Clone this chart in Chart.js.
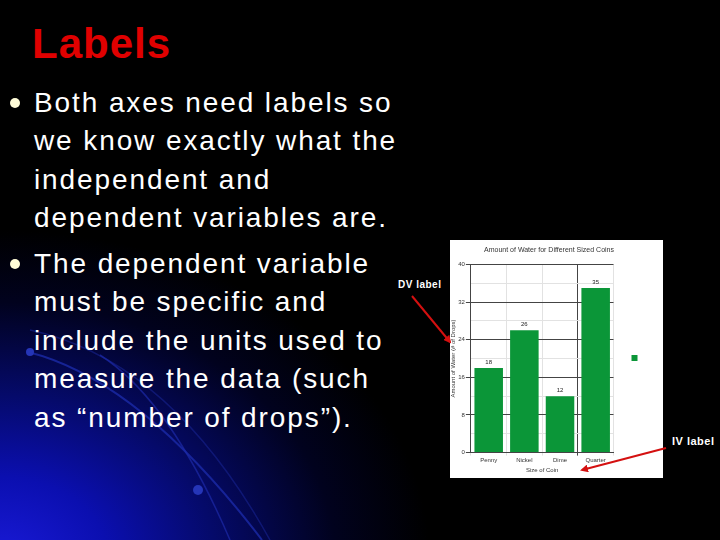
<!DOCTYPE html>
<html>
<head>
<meta charset="utf-8">
<script src="https://cdn.jsdelivr.net/npm/chart.js@4.4.1/dist/chart.umd.min.js"></script>
<style>
  html, body { margin: 0; padding: 0; }
  body {
    width: 720px; height: 540px; overflow: hidden; position: relative;
    background: radial-gradient(ellipse 430px 330px at 0px 560px, #1a1ad8 0%, #0b0fb0 25%, #050a6a 50%, #01021e 78%, #000 100%);
    background-color: #000;
    font-family: "Liberation Sans", Arial, sans-serif;
  }
  .layer { position: absolute; left: 0; top: 0; }
  .title {
    position: absolute; left: 32px; top: 23px; margin: 0;
    font-size: 42px; line-height: 42px; font-weight: bold; color: #e00000; letter-spacing: 1px;
  }
  .bullets {
    position: absolute; left: 34px; top: 83.5px; margin: 0; padding: 0; list-style: none;
    color: #fff; font-size: 28px; line-height: 38.5px; letter-spacing: 1.9px;
  }
  .bullets li { position: relative; margin: 0 0 7px 0; white-space: nowrap; }
  .bullets li::before {
    content: ""; position: absolute; left: -24px; top: 14px; width: 10px; height: 10px;
    border-radius: 50%; background: #fffcd8;
  }
  #chartBox { position: absolute; left: 450px; top: 240px; width: 213px; height: 238px; background: #fff; }
  .note { position: absolute; color: #fff; font-weight: bold; font-size: 10px; letter-spacing: 0.5px; }
</style>
</head>
<body>
<svg class="layer" width="720" height="540">
  <path d="M28,352 Q140,380 262,540" stroke="#1c2aa8" stroke-width="2" fill="none" opacity="0.8"/>
  <path d="M30,330 Q170,360 270,540" stroke="#17238f" stroke-width="1.5" fill="none" opacity="0.6"/>
  <path d="M100,355 Q170,400 230,540" stroke="#1c2aa8" stroke-width="1.5" fill="none" opacity="0.7"/>
  <circle cx="30" cy="352" r="4" fill="#2535b8"/>
  <circle cx="198" cy="490" r="5" fill="#2535b8"/>
</svg>

<h1 class="title">Labels</h1>
<ul class="bullets">
  <li>Both axes need labels so<br>we know exactly what the<br>independent and<br>dependent variables are.</li>
  <li>The dependent variable<br>must be specific and<br>include the units used to<br>measure the data (such<br>as “number of drops”).</li>
</ul>
<div class="note" style="left:398px; top:279px;">DV label</div>
<div class="note" style="left:672px; top:435px; font-size:11px;">IV label</div>

<div id="chartBox"><canvas id="chart" width="213" height="238"></canvas></div>

<svg class="layer" width="720" height="540">
  <defs>
    <marker id="ah" markerWidth="8" markerHeight="8" refX="6" refY="4" orient="auto" markerUnits="userSpaceOnUse">
      <path d="M0,0 L8,4 L0,8 z" fill="#d41010"/>
    </marker>
  </defs>
  <line x1="412" y1="296" x2="450" y2="342" stroke="#d41010" stroke-width="2" marker-end="url(#ah)"/>
  <line x1="666" y1="448" x2="582" y2="470" stroke="#d41010" stroke-width="2" marker-end="url(#ah)"/>
</svg>

<script>
var chartTitle = 'Amount of Water for Different Sized Coins';
var coins = ['Penny', 'Nickel', 'Dime', 'Quarter'];
var drops = [18, 26, 12, 35];
var yTitle = 'Amount of Water (# of Drops)';
var xTitle = 'Size of Coin';

var barValues = {
    id: 'barValues',
    afterDatasetsDraw: function (chart) {
        var ctx = chart.ctx;
        var meta = chart.getDatasetMeta(0);
        ctx.save();
        ctx.fillStyle = '#222';
        ctx.font = '6px "Liberation Sans", Arial';
        ctx.textAlign = 'center';
        ctx.textBaseline = 'bottom';
        meta.data.forEach(function (bar, i) {
            ctx.fillText(drops[i], bar.x, bar.y - 3);
        });
        ctx.restore();
    }
};

var ctx = document.getElementById('chart');
var myChart = new Chart(ctx, {
    type: 'bar',
    data: {
        labels: coins,
        datasets: [{
            label: '',
            data: drops,
            backgroundColor: '#0b9638',
            borderWidth: 0,
            barPercentage: 0.8,
            categoryPercentage: 1.0
        }]
    },
    plugins: [barValues],
    options: {
        responsive: false,
        animation: false,
        devicePixelRatio: 1,
        layout: { padding: { left: 0, right: 15, top: 0, bottom: 2 } },
        plugins: {
            title: {
                display: true,
                text: chartTitle,
                color: '#333',
                font: { size: 7, weight: 'normal', family: '"Liberation Sans", Arial' },
                padding: { top: 6, bottom: 10 }
            },
            legend: {
                display: true,
                position: 'right',
                labels: { boxWidth: 6, boxHeight: 6, padding: 18, font: { size: 1 } }
            },
            tooltip: { enabled: false }
        },
        scales: {
            x: {
                grid: {
                    offset: true,
                    color: function (c) { return c.index === 3 ? '#444' : '#e2e2e2'; },
                    tickLength: 3
                },
                border: { color: '#444' },
                ticks: { color: '#333', font: { size: 6, family: '"Liberation Sans", Arial' }, padding: 1 },
                title: { display: true, text: xTitle, color: '#333', font: { size: 6, family: '"Liberation Sans", Arial' }, padding: 2 }
            },
            y: {
                min: 0,
                max: 40,
                ticks: {
                    stepSize: 4,
                    color: '#333',
                    padding: 1,
                    font: { size: 6, family: '"Liberation Sans", Arial' },
                    callback: function (v) { return v % 8 === 0 ? v : ''; }
                },
                grid: {
                    color: function (c) { return c.tick && c.tick.value % 8 === 0 ? '#444' : '#e2e2e2'; },
                    tickColor: function (c) { return c.tick && c.tick.value % 8 === 0 ? '#444' : 'rgba(0,0,0,0)'; },
                    tickLength: 5
                },
                border: { color: '#444' },
                title: { display: true, text: yTitle, color: '#333', font: { size: 6, family: '"Liberation Sans", Arial' }, padding: 0 }
            }
        }
    }
});
</script>
</body>
</html>
